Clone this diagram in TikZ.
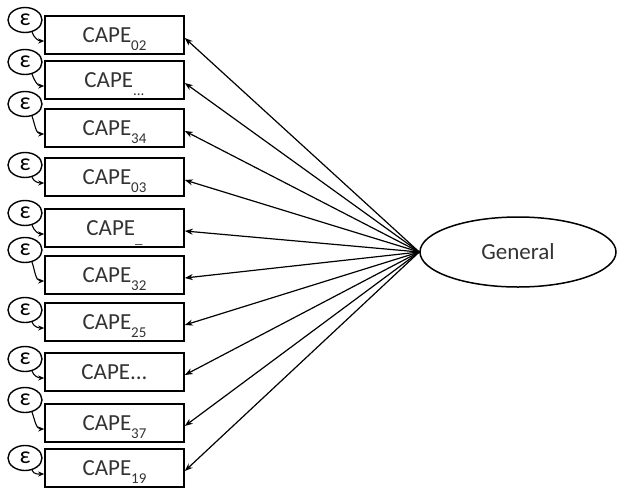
\documentclass[tikz,border=0pt]{standalone}
\usepackage{fontspec}
\setmainfont{Carlito}
\usetikzlibrary{arrows.meta,shapes.geometric}
\newcommand\lowsub[1]{\raisebox{-0.35em}[0pt][0pt]{\fontsize{15}{15}\selectfont #1}}
\begin{document}
\begin{tikzpicture}[x=1pt,y=-1pt,
  itembox/.style={draw,line width=1.6pt,minimum width=139pt,minimum height=38pt,
    inner sep=0pt,font=\fontsize{23}{23}\selectfont,text=black!80},
  errnode/.style={draw,line width=1.4pt,ellipse,minimum width=34pt,minimum height=25pt,
    inner sep=0pt,font=\fontsize{24}{24}\selectfont},
  factor/.style={draw,line width=1.5pt,ellipse,minimum width=196pt,minimum height=70pt,
    inner sep=0pt,font=\fontsize{23}{23}\selectfont,text=black!80},
  load/.style={line width=1.2pt,-{Stealth[length=8pt,width=6pt]}},
  errarrow/.style={line width=1.1pt,-{Stealth[length=6pt,width=5pt]}}]
\useasboundingbox (0,0) rectangle (618,488);

% latent factor
\node[factor] (g) at (518,252) {General};

% indicator boxes: name / centre y
\foreach \n/\y/\t in {
  1/35/{CAPE\lowsub{02}},
  2/80/{CAPE\lowsub{...}},
  3/128/{CAPE\lowsub{34}},
  4/177/{CAPE\lowsub{03}},
  5/228/{CAPE\lowsub{\_}},
  6/275/{CAPE\lowsub{32}},
  7/322/{CAPE\lowsub{25}},
  8/372/{CAPE...},
  9/423/{CAPE\lowsub{37}},
  10/468/{CAPE\lowsub{19}}}{
  \node[itembox] (b\n) at (114.5,\y) {\t};
}

% error terms: name / centre y
\foreach \n/\y in {1/20,2/62,3/104,4/165,5/213,6/250,7/310,8/359,9/400,10/458}{
  \node[errnode] (e\n) at (25,\y) {ε};
}

% loadings from the factor to each indicator
\foreach \n in {1,...,10}{
  \draw[load] (g.west) -- ([yshift=-3pt]b\n.east);
}

% error arrows into the indicators
\foreach \n in {1,...,10}{
  \draw[errarrow] (e\n.-60) to[out=-70,in=180] ([yshift=-6pt]b\n.west);
}
\end{tikzpicture}
\end{document}
